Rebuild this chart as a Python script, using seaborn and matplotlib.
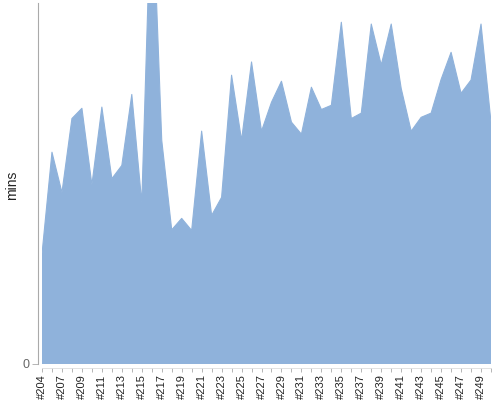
import numpy as np
import pandas as pd
import matplotlib
matplotlib.use("Agg")
import matplotlib.pyplot as plt
import seaborn as sns

# build ids: #204 then #206..#250 (#205 is missing)
builds = ["#204"] + ["#%d" % n for n in range(206, 251)]
mins = [18.3, 35.2, 28.5, 40.8, 42.5, 29.8, 42.7, 30.8, 33.0, 44.8,
        26.8, 81.3, 37.2, 22.3, 24.2, 22.2, 38.7, 24.7, 27.7, 48.0,
        37.2, 50.2, 38.7, 43.5, 47.0, 40.2, 38.2, 46.0, 42.3, 43.0,
        56.8, 40.8, 41.7, 56.5, 49.7, 56.5, 45.8, 38.7, 41.0, 41.7,
        47.3, 51.8, 45.0, 47.2, 56.5, 40.2]

df = pd.DataFrame({"build": builds, "mins": mins})
df["pos"] = np.arange(len(df))

sns.set_theme(style="white")
plt.rcParams["font.family"] = ["Liberation Sans", "DejaVu Sans"]

fill_color = "#8fb2db"

fig = plt.figure(figsize=(5, 4), dpi=100)
ax = fig.add_axes([0.084, 0.09, 0.898, 0.9025])

ax.fill_between(df["pos"], 0, df["mins"], color=fill_color, linewidth=0)
sns.lineplot(x="pos", y="mins", data=df, ax=ax, color=fill_color, linewidth=0.8)

ax.set_xlim(0, len(df) - 1)
ax.set_ylim(0, 60)

# ticks at every build, label every other one
ax.set_xticks(df["pos"])
ax.set_xticklabels([b if i % 2 == 0 else "" for i, b in enumerate(builds)])
ax.set_yticks([0])
ax.set_yticklabels(["0"])
ax.tick_params(axis="x", length=3, width=0.6, color="#aaaaaa", pad=1.5,
               direction="out", bottom=True, labelrotation=90,
               labelsize=8, labelcolor="#222222")
ax.tick_params(axis="y", length=4, width=0.6, color="#aaaaaa", pad=2,
               direction="out", left=True, labelsize=9, labelcolor="#666666")

ax.set_xlabel("")
ax.set_ylabel("mins", fontsize=10, color="#222222")
ax.yaxis.set_label_coords(-0.052, 0.496)

for side in ["top", "right"]:
    ax.spines[side].set_visible(False)
ax.spines["left"].set_color("#aaaaaa")
ax.spines["left"].set_linewidth(0.8)
ax.spines["left"].set_position(("outward", 3))
ax.spines["bottom"].set_color("#dddddd")
ax.spines["bottom"].set_linewidth(0.6)
ax.spines["bottom"].set_position(("outward", 3))

fig.savefig("out.png", dpi=100)
